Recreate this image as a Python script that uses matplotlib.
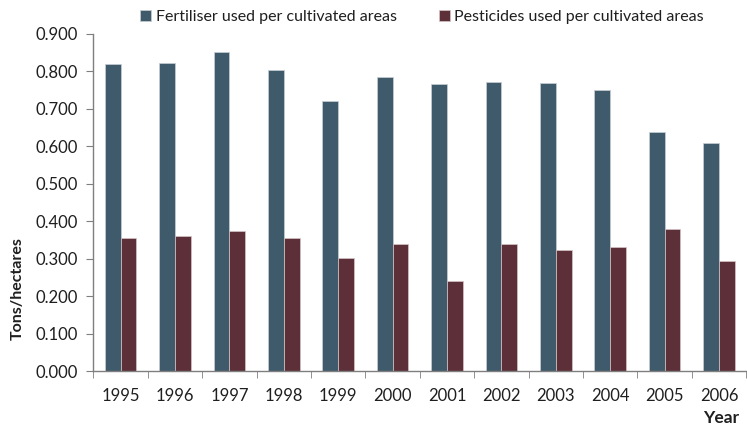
import numpy as np
import matplotlib.pyplot as plt

years = ["1995", "1996", "1997", "1998", "1999", "2000",
         "2001", "2002", "2003", "2004", "2005", "2006"]
fertiliser = [0.820, 0.823, 0.851, 0.805, 0.721, 0.784,
              0.766, 0.772, 0.770, 0.750, 0.638, 0.608]
pesticides = [0.356, 0.360, 0.374, 0.354, 0.303, 0.340,
              0.240, 0.338, 0.322, 0.330, 0.379, 0.293]

plt.rcParams['font.family'] = ['Lato', 'DejaVu Sans']
grey = '#7f7f7f'
text_col = '#1f1f1f'

fig = plt.figure(figsize=(7.47, 4.25), dpi=100)
ax = fig.add_axes([0.125, 0.127, 0.874, 0.793])

x = np.arange(len(years))
w = 0.29
b1 = ax.bar(x - w / 2, fertiliser, w, color='#3f5a6b', edgecolor='#c9cfd4',
            linewidth=0.5, label='Fertiliser used per cultivated areas')
b2 = ax.bar(x + w / 2, pesticides, w, color='#5d2f38', edgecolor='#d6c4c6',
            linewidth=0.5, label='Pesticides used per cultivated areas')

ax.set_xlim(-0.5, len(years) - 0.5)
ax.set_ylim(0, 0.9)
ax.set_yticks(np.arange(0, 0.91, 0.1))
ax.set_yticklabels([f"{v:.3f}" for v in np.arange(0, 0.91, 0.1)])
ax.set_xticks(x)
ax.set_xticklabels(years)
ax.set_xticks(np.arange(-0.5, len(years), 1), minor=True)

ax.tick_params(axis='x', which='major', length=0, pad=12, labelsize=12, colors=text_col)
ax.tick_params(axis='x', which='minor', length=5, color=grey, direction='out')
ax.tick_params(axis='y', length=5, color=grey, labelsize=12, labelcolor=text_col, pad=6)

for s in ['top', 'right']:
    ax.spines[s].set_visible(False)
for s in ['left', 'bottom']:
    ax.spines[s].set_color(grey)
    ax.spines[s].set_linewidth(1.0)

ax.set_ylabel('Tons/hectares', fontsize=11.5, fontweight='bold', color=text_col)
ax.yaxis.set_label_coords(-0.105, 0.245)
fig.text(0.966, 0.004, 'Year', fontsize=12.5, fontweight='bold', color=text_col,
         ha='center', va='baseline')

fig.legend(handles=[b1, b2], loc='upper center', bbox_to_anchor=(0.565, 1.01), ncol=2,
           frameon=False, fontsize=11.5, handlelength=0.7, handleheight=0.7,
           handletextpad=0.3, columnspacing=2.6, labelcolor=text_col)

plt.savefig('out.png', dpi=100)
plt.close()
